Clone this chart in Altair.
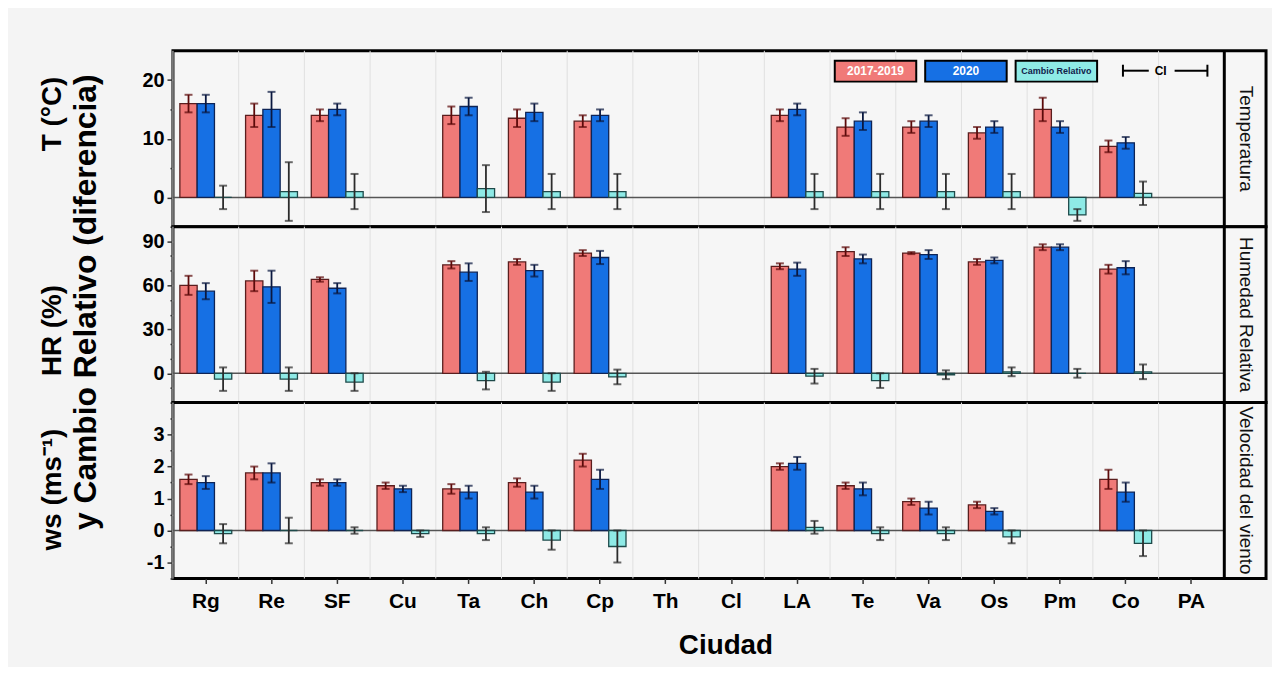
import altair as alt
import pandas as pd

# ---------------- data ----------------
cities = ["Rg", "Re", "SF", "Cu", "Ta", "Ch", "Cp", "Th", "Cl", "LA", "Te", "Va", "Os", "Pm", "Co", "PA"]
series = ["2017-2019", "2020", "Cambio Relativo"]
panel_names = ["Temperatura", "Humedad Relativa", "Velocidad del viento"]
N = None

# Temperatura (°C)
t_base    = [16.0, 14.0, 14.0, N, 14.0, 13.5, 13.0, N, N, 14.0, 12.0, 12.0, 11.0, 15.0, 8.7, N]
t_base_ci = [1.5, 2.0, 1.0, N, 1.5, 1.5, 1.0, N, N, 1.0, 1.5, 1.0, 1.0, 2.0, 1.0, N]
t_2020    = [16.0, 15.0, 15.0, N, 15.5, 14.5, 14.0, N, N, 15.0, 13.0, 13.0, 12.0, 12.0, 9.3, N]
t_2020_ci = [1.5, 3.0, 1.0, N, 1.5, 1.5, 1.0, N, N, 1.0, 1.5, 1.0, 1.0, 1.0, 1.0, N]
t_rel     = [0.0, 1.0, 1.0, N, 1.5, 1.0, 1.0, N, N, 1.0, 1.0, 1.0, 1.0, -3.0, 0.7, N]
t_rel_ci  = [2.0, 5.0, 3.0, N, 4.0, 3.0, 3.0, N, N, 3.0, 3.0, 3.0, 3.0, 1.0, 2.0, N]

# Humedad relativa (%)
h_base    = [60.0, 63.0, 64.0, N, 74.0, 76.0, 82.0, N, N, 73.0, 83.0, 82.0, 76.0, 86.0, 71.0, N]
h_base_ci = [6.5, 7.0, 1.5, N, 2.5, 2.0, 2.0, N, N, 2.0, 3.0, 0.7, 2.0, 2.0, 3.0, N]
h_2020    = [56.0, 59.0, 58.0, N, 69.0, 70.0, 79.0, N, N, 71.0, 78.0, 81.0, 77.0, 86.0, 72.0, N]
h_2020_ci = [5.5, 11.0, 3.5, N, 6.0, 4.0, 4.5, N, N, 4.5, 3.0, 3.0, 2.0, 2.0, 4.5, N]
h_rel     = [-4.0, -4.0, -6.0, N, -5.0, -6.0, -2.5, N, N, -2.0, -5.0, -1.0, 1.0, 0.0, 1.0, N]
h_rel_ci  = [8.0, 8.0, 6.0, N, 6.0, 6.0, 5.0, N, N, 5.0, 5.0, 3.0, 3.0, 3.0, 5.0, N]

# Velocidad del viento (m/s)
w_base    = [1.6, 1.8, 1.5, 1.4, 1.3, 1.5, 2.2, N, N, 2.0, 1.4, 0.9, 0.8, N, 1.6, N]
w_base_ci = [0.15, 0.2, 0.1, 0.1, 0.15, 0.13, 0.2, N, N, 0.1, 0.1, 0.1, 0.1, N, 0.3, N]
w_2020    = [1.5, 1.8, 1.5, 1.3, 1.2, 1.2, 1.6, N, N, 2.1, 1.3, 0.7, 0.6, N, 1.2, N]
w_2020_ci = [0.2, 0.3, 0.1, 0.1, 0.2, 0.2, 0.3, N, N, 0.2, 0.2, 0.2, 0.1, N, 0.3, N]
w_rel     = [-0.1, 0.0, 0.0, -0.1, -0.1, -0.3, -0.5, N, N, 0.1, -0.1, -0.1, -0.2, N, -0.4, N]
w_rel_ci  = [0.3, 0.4, 0.1, 0.1, 0.2, 0.3, 0.5, N, N, 0.2, 0.2, 0.2, 0.2, N, 0.4, N]


def long_df(base, base_ci, new, new_ci, rel, rel_ci):
    rows = []
    for i, c in enumerate(cities):
        for s, v, e in ((series[0], base[i], base_ci[i]),
                        (series[1], new[i], new_ci[i]),
                        (series[2], rel[i], rel_ci[i])):
            if v is None:
                continue
            rows.append({"city": c, "series": s, "value": v, "lo": v - e, "hi": v + e})
    return pd.DataFrame(rows)


# ---------------- style ----------------
PLOT_W, STRIP_W, PANEL_H = 1058, 42, 177
FONT = "Liberation Sans"
fills = ["#F07A78", "#1670E4", "#8EEAE6"]
strokes = ["#5A1E1E", "#0E2456", "#1E4A4A"]
errc = ["#5C0A0A", "#0A1840", "#2B2B2B"]

cities_df = pd.DataFrame({"city": cities})


def make_panel(idx, df, domain, tick_values, major, ytitle, title_y, show_x):
    xscale = alt.Scale(domain=cities, range=[0, PLOT_W], paddingInner=0, paddingOuter=0)
    if show_x:
        xaxis = alt.Axis(title="Ciudad", labelAngle=0, labelFont=FONT, labelFontSize=21,
                         labelFontWeight="bold", labelColor="black", labelPadding=7,
                         ticks=True, tickSize=5, tickColor="#333", tickWidth=1.5,
                         domain=False, grid=False, titleFont=FONT, titleFontSize=28,
                         titleFontWeight="bold", titleColor="black", titlePadding=20,
                         titleX=556)
    else:
        xaxis = alt.Axis(title=None, labels=False, ticks=False, domain=False, grid=False)
    yscale = alt.Scale(domain=domain, nice=False, zero=False)
    yaxis = alt.Axis(title=ytitle, values=tick_values,
                     labelExpr=f"({major}) ? '' + datum.value : ''",
                     labelFont=FONT, labelFontSize=20, labelFontWeight="bold",
                     labelColor="black", labelPadding=3, labelOverlap=False,
                     tickSize={"condition": {"test": major, "value": 6}, "value": 3},
                     tickColor="#333", tickWidth=1.5, domain=False, grid=False,
                     titleFont=FONT, titleFontSize=28, titleFontWeight="bold",
                     titleColor="black", titleAngle=270, titleX=-121, titleY=title_y,
                     titleAlign="center", titleBaseline="middle")

    xo = alt.XOffset("series:N", sort=series,
                     scale=alt.Scale(domain=series, paddingOuter=0.4, paddingInner=0))
    xs = alt.X("city:N", sort=cities, scale=xscale, axis=xaxis)

    def ys(field):
        return alt.Y(field, scale=yscale, axis=yaxis)

    grid = alt.Chart(cities_df).mark_rule(color="#e0e0e0", strokeWidth=1).encode(
        x=alt.X("city:N", sort=cities, scale=xscale, axis=xaxis, bandPosition=0)
    )
    zero = alt.Chart(pd.DataFrame({"value": [0]})).mark_rule(color="#555", strokeWidth=1.5).encode(
        y=ys("value:Q"),
        x=alt.value(0), x2=alt.value(PLOT_W)
    )
    bars = alt.Chart(df).mark_bar(strokeWidth=1.3).encode(
        x=xs,
        xOffset=xo,
        y=ys("value:Q"),
        y2=alt.datum(0),
        fill=alt.Fill("series:N", scale=alt.Scale(domain=series, range=fills), legend=None),
        stroke=alt.Stroke("series:N", scale=alt.Scale(domain=series, range=strokes), legend=None),
    )
    errs = alt.Chart(df).mark_rule(strokeWidth=1.8).encode(
        x=xs, xOffset=xo,
        y=ys("lo:Q"), y2="hi:Q",
        color=alt.Color("series:N", scale=alt.Scale(domain=series, range=errc), legend=None),
    )
    caps = alt.Chart(df).transform_fold(["lo", "hi"], as_=["end", "yv"]).mark_tick(
        size=8, thickness=2
    ).encode(
        x=xs, xOffset=xo,
        y=ys("yv:Q"),
        color=alt.Color("series:N", scale=alt.Scale(domain=series, range=errc), legend=None),
    )
    sep = alt.Chart(pd.DataFrame({"k": [0]})).mark_rule(color="black", strokeWidth=3).encode(
        x=alt.value(PLOT_W), y=alt.value(0), y2=alt.value(PANEL_H)
    )
    name = panel_names[idx]
    long_name = idx == 2
    strip = alt.Chart(pd.DataFrame({"t": [name]})).mark_text(
        angle=90, font=FONT, fontSize=19, color="#111", baseline="middle",
        align="left" if long_name else "center", clip=True
    ).encode(
        x=alt.value(PLOT_W + STRIP_W / 2 + 1),
        y=alt.value(4 if long_name else PANEL_H / 2),
        text="t:N",
    )
    layers = [grid, zero, bars, errs, caps, sep, strip]

    if idx == 0:
        lx0, lw, lgap, ly0, ly1 = 666, 82, 9, 10, 31
        txt_col = ["white", "white", "#10204a"]
        txt_size = [12, 12, 9]
        for i, s in enumerate(series):
            d = pd.DataFrame({"t": [s]})
            x0 = lx0 + i * (lw + lgap)
            layers.append(alt.Chart(d).mark_rect(fill=fills[i], stroke="black", strokeWidth=2).encode(
                x=alt.value(x0), x2=alt.value(x0 + lw), y=alt.value(ly0), y2=alt.value(ly1)))
            layers.append(alt.Chart(d).mark_text(font=FONT, fontSize=txt_size[i], fontWeight="bold",
                                                 color=txt_col[i], baseline="middle").encode(
                x=alt.value(x0 + lw / 2), y=alt.value((ly0 + ly1) / 2), text="t:N"))
        cx0, cx1, cy = 956, 1041, 20
        ci = pd.DataFrame({"t": ["CI"]})
        layers.append(alt.Chart(ci).mark_rule(color="black", strokeWidth=2).encode(
            x=alt.value(cx0), x2=alt.value(cx0 + 26), y=alt.value(cy)))
        layers.append(alt.Chart(ci).mark_rule(color="black", strokeWidth=2).encode(
            x=alt.value(cx1 - 33), x2=alt.value(cx1), y=alt.value(cy)))
        layers.append(alt.Chart(ci).mark_rule(color="black", strokeWidth=2).encode(
            x=alt.value(cx0), y=alt.value(cy - 6), y2=alt.value(cy + 6)))
        layers.append(alt.Chart(ci).mark_rule(color="black", strokeWidth=2).encode(
            x=alt.value(cx1), y=alt.value(cy - 6), y2=alt.value(cy + 6)))
        layers.append(alt.Chart(ci).mark_text(font=FONT, fontSize=12, fontWeight="bold",
                                              color="black", baseline="middle").encode(
            x=alt.value(cx0 + 38), y=alt.value(cy), text="t:N"))
    if idx == 1:
        layers.append(alt.Chart(pd.DataFrame({"t": ["y Cambio Relativo (diferencia)"]})).mark_text(
            angle=270, font=FONT, fontSize=32, fontWeight="bold", color="black",
            align="center", baseline="middle"
        ).encode(x=alt.value(-87), y=alt.value(76), text="t:N"))

    return alt.layer(*layers).properties(width=PLOT_W + STRIP_W, height=PANEL_H)


top = make_panel(0, long_df(t_base, t_base_ci, t_2020, t_2020_ci, t_rel, t_rel_ci),
                 [-5, 25], [-5, 0, 5, 10, 15, 20], "datum.value % 10 === 0",
                 "T (°C)", 63, False)
mid = make_panel(1, long_df(h_base, h_base_ci, h_2020, h_2020_ci, h_rel, h_rel_ci),
                 [-20, 100], [-20, -10, 0, 10, 20, 30, 40, 50, 60, 70, 80, 90],
                 "datum.value % 30 === 0", "HR (%)", 104, False)
bot = make_panel(2, long_df(w_base, w_base_ci, w_2020, w_2020_ci, w_rel, w_rel_ci),
                 [-1.5, 4], [-1.5, -1, -0.5, 0, 0.5, 1, 1.5, 2, 2.5, 3, 3.5],
                 "datum.value % 1 === 0", "ws (ms⁻¹)", 87, True)

chart = alt.vconcat(top, mid, bot, spacing=0, bounds="flush").properties(
    background="#f4f4f4",
    padding={"left": 29, "top": 38, "right": 4, "bottom": 4},
).configure_view(stroke="black", strokeWidth=3, fill="#f6f6f6")

chart.save("out.html", embed_options={"renderer": "svg", "actions": False})
